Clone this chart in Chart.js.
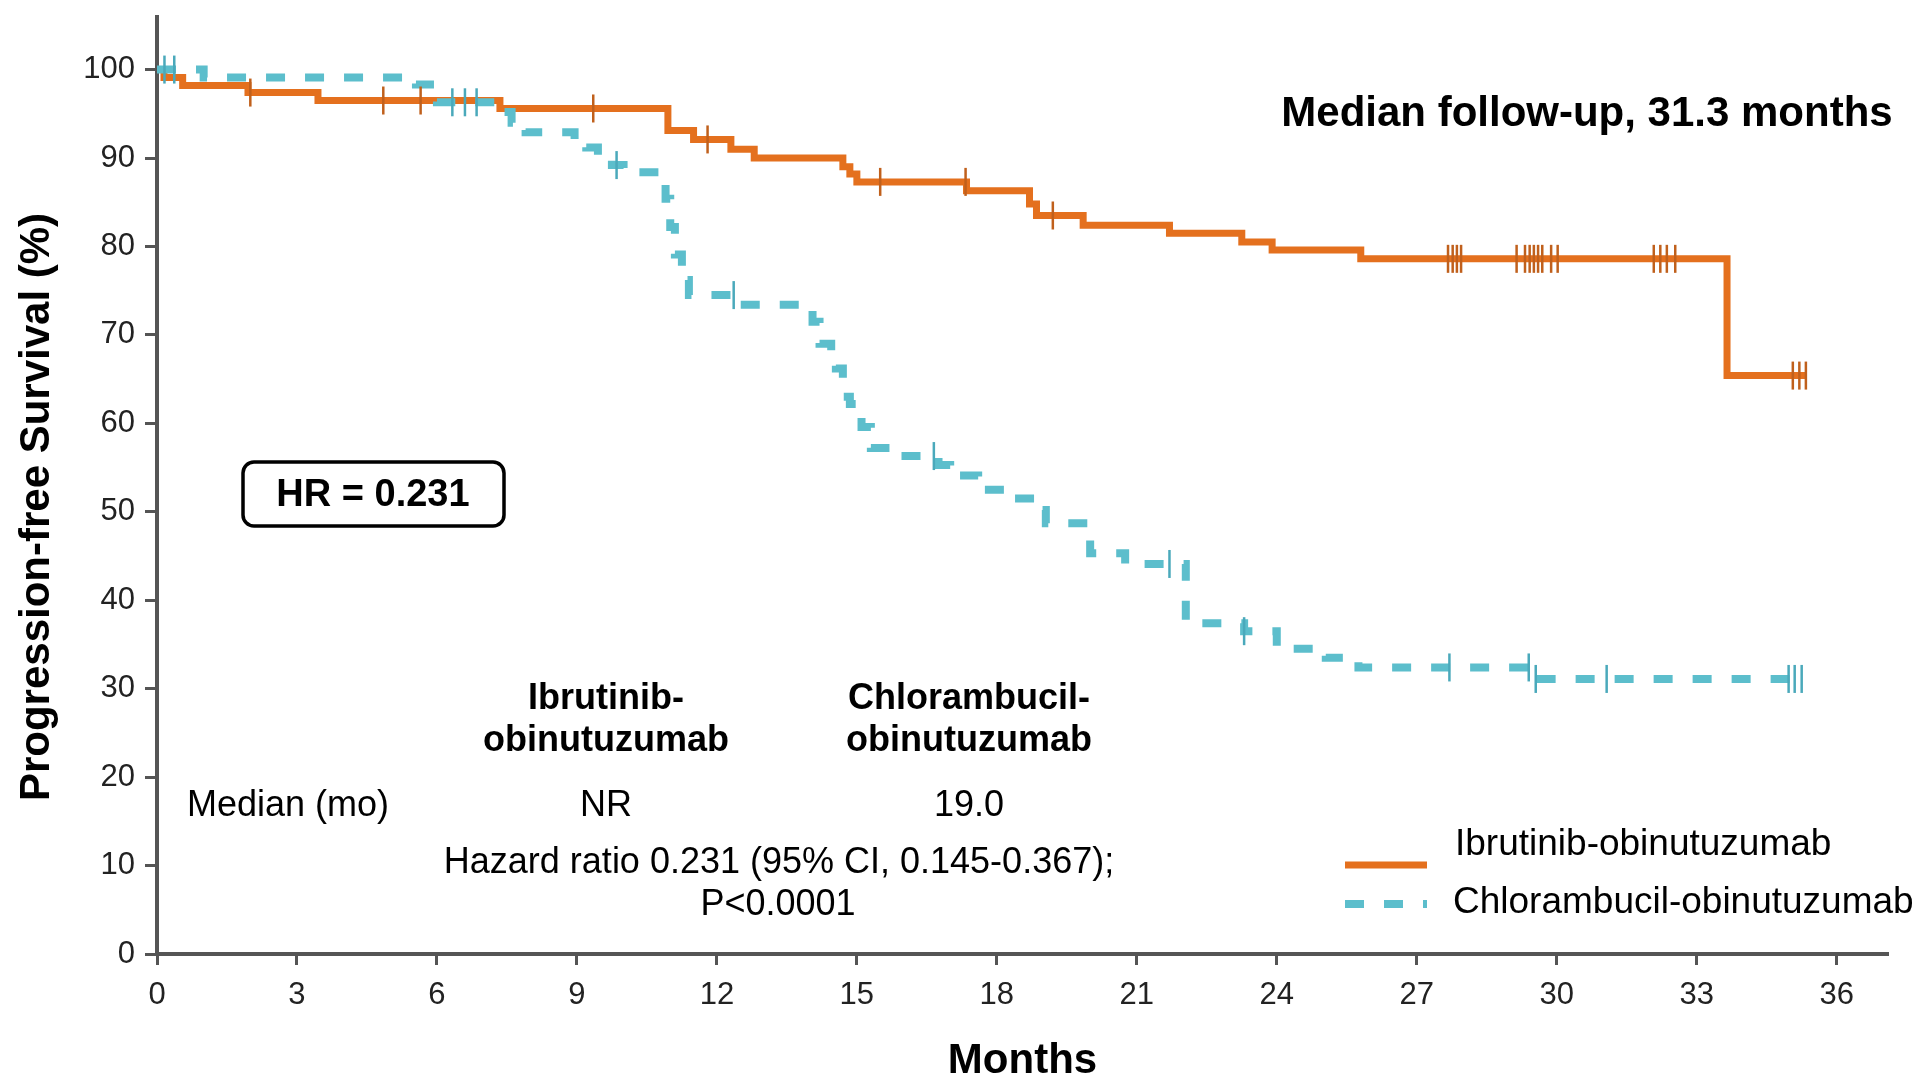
<!DOCTYPE html>
<html>
<head>
<meta charset="utf-8">
<title>Progression-free survival</title>
<script src="https://cdn.jsdelivr.net/npm/chart.js@4.4.1/dist/chart.umd.min.js"></script>
<style>
  html, body { margin: 0; padding: 0; background: #fff; }
  canvas { display: block; }
</style>
</head>
<body>
<canvas id="pfs" width="1921" height="1078"></canvas>
<script>
// Kaplan-Meier steps: month of each event and survival (%) right after it
const ibrTimes = [0, 0.15, 0.55, 1.95, 3.45, 7.35, 10.95, 11.5, 12.3, 12.8, 14.7, 14.85, 15.0, 17.35, 18.7, 18.85, 19.85, 21.7, 23.25, 23.9, 25.8, 33.65, 35.35];
const ibrSurv  = [100, 99.1, 98.2, 97.4, 96.5, 95.6, 93.1, 92.1, 91.0, 90.0, 89.0, 88.2, 87.3, 86.3, 84.8, 83.5, 82.4, 81.5, 80.5, 79.6, 78.6, 65.4, 65.4];

const chlTimes = [0, 1.0, 5.55, 6.0, 7.4, 7.6, 7.9, 8.95, 9.2, 9.45, 9.75, 10.0, 10.9, 11.0, 11.1, 11.25, 11.4, 12.45, 14.05, 14.2, 14.45, 14.55, 14.7, 14.85, 15.1, 15.3, 15.85, 16.75, 17.0, 17.6, 18.35, 18.9, 19.05, 20.0, 20.75, 22.05, 23.3, 24.0, 25.05, 25.75, 29.5, 35.3];
const chlSurv  = [100, 99.1, 98.3, 96.3, 95.2, 94.0, 92.9, 92.1, 91.2, 90.0, 89.2, 88.4, 85.4, 82.2, 79.1, 76.2, 74.5, 73.4, 71.5, 69.0, 68.2, 66.2, 63.0, 62.2, 59.6, 57.2, 56.3, 55.3, 54.1, 52.5, 51.5, 50.2, 48.7, 45.3, 44.1, 37.4, 36.5, 34.5, 33.5, 32.4, 31.1, 31.1];

// censored patients (tick marks)
const ibrCensorT = [2.0, 4.85, 5.65, 9.35, 11.8, 15.5, 17.33, 19.2, 27.67, 27.77, 27.86, 27.95, 29.14, 29.32, 29.42, 29.51, 29.6, 29.69, 29.88, 30.02, 32.08, 32.22, 32.36, 32.54, 35.06, 35.2, 35.34];
const ibrCensorS = [97.4, 96.5, 96.5, 95.6, 92.1, 87.3, 87.3, 83.5, 78.6, 78.6, 78.6, 78.6, 78.6, 78.6, 78.6, 78.6, 78.6, 78.6, 78.6, 78.6, 78.6, 78.6, 78.6, 78.6, 65.4, 65.4, 65.4];
const chlCensorT = [0.16, 0.37, 6.33, 6.6, 6.85, 9.85, 12.36, 16.65, 21.7, 23.3, 27.7, 29.4, 29.55, 31.07, 34.97, 35.1, 35.25];
const chlCensorS = [100, 100, 96.3, 96.3, 96.3, 89.2, 74.5, 56.3, 44.1, 36.5, 32.4, 32.4, 31.1, 31.1, 31.1, 31.1, 31.1];

const monthTicks = [0, 3, 6, 9, 12, 15, 18, 21, 24, 27, 30, 33, 36];
const survTicks  = [0, 10, 20, 30, 40, 50, 60, 70, 80, 90, 100];

const seriesNames  = ['Ibrutinib-obinutuzumab', 'Chlorambucil-obinutuzumab'];
const armHeaders   = [['Ibrutinib-', 'obinutuzumab'], ['Chlorambucil-', 'obinutuzumab']];
const medianLabel  = 'Median (mo)';
const medianValues = ['NR', '19.0'];
const hazardLines  = ['Hazard ratio 0.231 (95% CI, 0.145-0.367);', 'P<0.0001'];
const hrBoxText    = 'HR = 0.231';
const followUpText = 'Median follow-up, 31.3 months';
const yTitle = 'Progression-free Survival (%)';
const xTitle = 'Months';

const ORANGE = '#E4701E';
const CYAN = '#5CBECC';
const AXIS = '#555555';
const FONT = '"Liberation Sans", Arial, Helvetica, sans-serif';

const pts = (xs, ys) => xs.map((x, i) => ({ x: x, y: ys[i] }));

function roundBox(ctx, x, y, w, h, r) {
  ctx.beginPath();
  ctx.moveTo(x + r, y);
  ctx.lineTo(x + w - r, y);
  ctx.arcTo(x + w, y, x + w, y + r, r);
  ctx.lineTo(x + w, y + h - r);
  ctx.arcTo(x + w, y + h, x + w - r, y + h, r);
  ctx.lineTo(x + r, y + h);
  ctx.arcTo(x, y + h, x, y + h - r, r);
  ctx.lineTo(x, y + r);
  ctx.arcTo(x, y, x + r, y, r);
  ctx.closePath();
}

// text, HR box and legend drawn over the chart
const annotations = {
  id: 'annotations',
  afterDraw(chart) {
    const ctx = chart.ctx;
    const sets = chart.data.datasets;
    ctx.save();
    ctx.fillStyle = '#000';
    ctx.textBaseline = 'middle';

    // y axis title
    ctx.save();
    ctx.translate(37, 507);
    ctx.rotate(-Math.PI / 2);
    ctx.textAlign = 'center';
    ctx.font = 'bold 42px ' + FONT;
    ctx.fillText(yTitle, 0, 0);
    ctx.restore();

    ctx.textAlign = 'center';
    ctx.font = 'bold 42px ' + FONT;
    ctx.fillText(followUpText, 1587, 114);

    // HR box
    ctx.lineWidth = 3.5;
    ctx.strokeStyle = '#000';
    roundBox(ctx, 243, 462, 261, 64, 11);
    ctx.stroke();
    ctx.font = 'bold 38px ' + FONT;
    ctx.fillText(hrBoxText, 373, 496);

    // median table
    const colX = [606, 969];
    ctx.font = 'bold 36px ' + FONT;
    armHeaders.forEach((lines, i) => {
      ctx.fillText(lines[0], colX[i], 699);
      ctx.fillText(lines[1], colX[i], 741);
    });
    ctx.font = '36px ' + FONT;
    ctx.textAlign = 'left';
    ctx.fillText(medianLabel, 187, 806);
    ctx.textAlign = 'center';
    medianValues.forEach((v, i) => ctx.fillText(v, colX[i], 806));
    ctx.fillText(hazardLines[0], 779, 863);
    ctx.fillText(hazardLines[1], 778, 905);

    // legend
    const legendY = [865, 904];
    const labelY = [845, 903];
    ctx.lineCap = 'butt';
    [0, 1].forEach(i => {
      ctx.beginPath();
      ctx.strokeStyle = sets[i].borderColor;
      ctx.lineWidth = sets[i].borderWidth;
      ctx.setLineDash(sets[i].borderDash || []);
      ctx.moveTo(1345, legendY[i]);
      ctx.lineTo(1427, legendY[i]);
      ctx.stroke();
    });
    ctx.setLineDash([]);
    ctx.textAlign = 'left';
    ctx.font = '37px ' + FONT;
    ctx.fillText(seriesNames[0], 1455, labelY[0]);
    ctx.fillText(seriesNames[1], 1453, labelY[1]);
    ctx.restore();
  }
};

new Chart(document.getElementById('pfs'), {
  type: 'line',
  data: {
    datasets: [
      {
        label: seriesNames[0],
        data: pts(ibrTimes, ibrSurv),
        stepped: 'before',
        borderColor: ORANGE,
        borderWidth: 7,
        pointRadius: 0,
        fill: false,
        order: 3
      },
      {
        label: seriesNames[1],
        data: pts(chlTimes, chlSurv),
        stepped: 'before',
        borderColor: CYAN,
        borderWidth: 8,
        borderDash: [19, 20],
        borderCapStyle: 'butt',
        pointRadius: 0,
        fill: false,
        order: 2
      },
      {
        label: 'ibr censored',
        data: pts(ibrCensorT, ibrCensorS),
        showLine: false,
        pointStyle: 'line',
        rotation: 90,
        pointRadius: 14,
        pointBorderWidth: 2.5,
        pointBorderColor: '#C0601C',
        order: 0
      },
      {
        label: 'chl censored',
        data: pts(chlCensorT, chlCensorS),
        showLine: false,
        pointStyle: 'line',
        rotation: 90,
        pointRadius: 14,
        pointBorderWidth: 2.5,
        pointBorderColor: '#4AA9BB',
        order: 1
      }
    ]
  },
  options: {
    responsive: false,
    animation: false,
    devicePixelRatio: 1,
    clip: false,
    layout: { padding: { top: 13, right: 33, left: 0, bottom: 0 } },
    plugins: {
      legend: { display: false },
      tooltip: { enabled: false }
    },
    scales: {
      x: {
        type: 'linear',
        min: 0,
        max: 37.1,
        afterBuildTicks: s => { s.ticks = monthTicks.map(v => ({ value: v })); },
        afterFit: s => {
          s.height = 124;
          s.paddingLeft = 0;
          s.paddingRight = 0;
        },
        ticks: { font: { family: FONT, size: 31 }, color: '#222', padding: 12, maxRotation: 0, autoSkip: false },
        grid: { drawOnChartArea: false, tickLength: 11, tickWidth: 3, tickColor: AXIS },
        border: { color: AXIS, width: 4 },
        title: {
          display: true,
          text: xTitle,
          color: '#000',
          font: { family: FONT, size: 42, weight: 'bold', lineHeight: 0.8 },
          padding: 0
        }
      },
      y: {
        type: 'linear',
        min: 0,
        max: 106,
        afterBuildTicks: s => { s.ticks = survTicks.map(v => ({ value: v })); },
        afterFit: s => {
          s.width = 157;
          s.paddingTop = 0;
          s.paddingBottom = 0;
        },
        ticks: { font: { family: FONT, size: 31 }, color: '#222', padding: 10, autoSkip: false },
        grid: { drawOnChartArea: false, tickLength: 12, tickWidth: 3, tickColor: AXIS },
        border: { color: AXIS, width: 4 }
      }
    }
  },
  plugins: [annotations]
});
</script>
</body>
</html>
